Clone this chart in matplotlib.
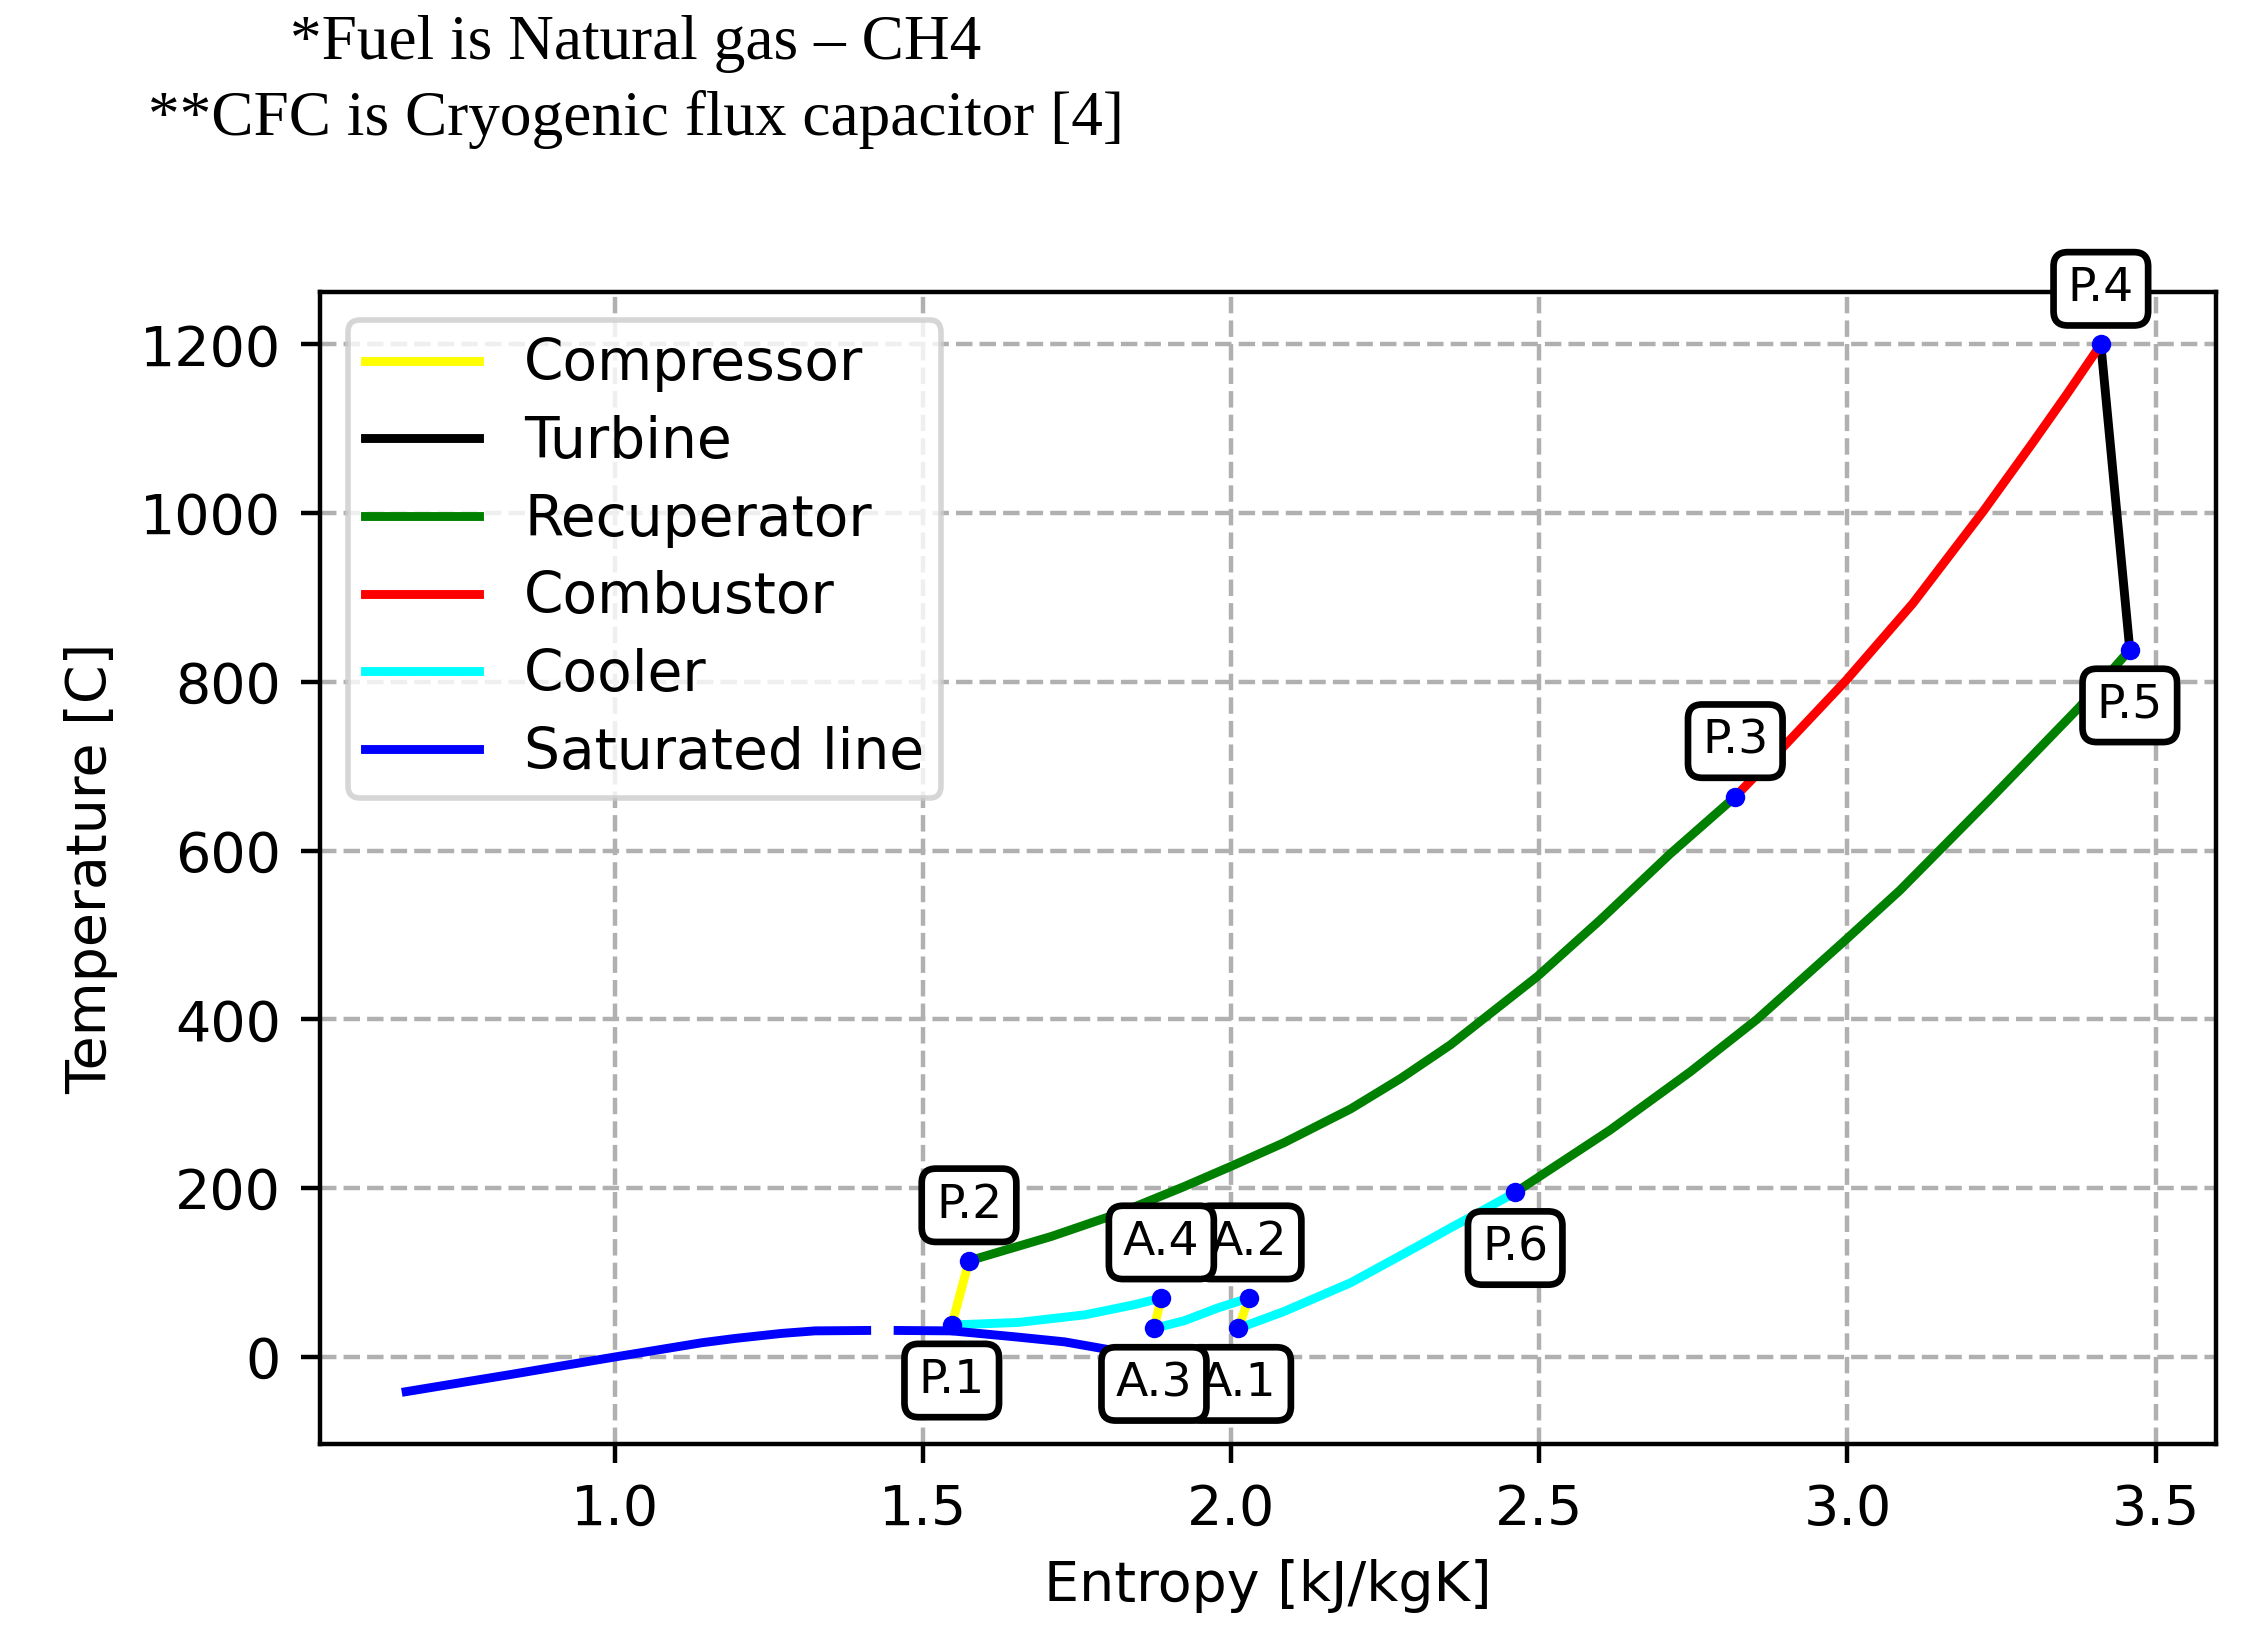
import matplotlib.pyplot as plt

# estados do ciclo: entropia [kJ/kgK], temperatura [C]
state_names = ['P.1', 'P.2', 'P.3', 'P.4', 'P.5', 'P.6', 'A.1', 'A.2', 'A.3', 'A.4']
state_s = [1.547, 1.575, 2.818, 3.411, 3.458, 2.461, 2.012, 2.029, 1.875, 1.887]
state_t = [38, 114, 664, 1200, 838, 195, 34, 70, 34, 70]

# recuperador, lado de alta pressao (P.2 -> P.3)
recup_hot_s = [1.575, 1.709, 1.817, 1.924, 2.000, 2.086, 2.194, 2.275, 2.356, 2.497, 2.599, 2.712, 2.818]
recup_hot_t = [114, 143, 170, 202, 226, 254, 294, 330, 370, 451, 518, 596, 664]

# combustor (P.3 -> P.4)
comb_s = [2.818, 2.896, 2.998, 3.106, 3.220, 3.300, 3.355, 3.411]
comb_t = [664, 723, 802, 893, 1002, 1083, 1140, 1200]

# recuperador, lado de baixa pressao (P.5 -> P.6)
recup_cold_s = [3.458, 3.376, 3.230, 3.085, 2.998, 2.853, 2.745, 2.615, 2.461]
recup_cold_t = [838, 770, 660, 553, 495, 400, 338, 269, 195]

# resfriadores (P.6 -> A.1, A.2 -> A.3, A.4 -> P.1)
cool1_s = [2.461, 2.389, 2.356, 2.302, 2.194, 2.086, 2.012]
cool1_t = [195, 166, 153, 131, 88, 54, 34]
cool2_s = [2.029, 1.978, 1.924, 1.875]
cool2_t = [70, 58, 43, 34]
cool3_s = [1.887, 1.843, 1.763, 1.655, 1.547]
cool3_t = [70, 62, 50, 41, 38]

# linha de saturacao do CO2 (liquido e vapor)
sat_liq_s = [0.662, 0.829, 1.000, 1.142, 1.195, 1.271, 1.325, 1.409]
sat_liq_t = [-41, -21, 0, 17, 22, 28, 31, 31.5]
sat_vap_s = [1.460, 1.547, 1.649, 1.730, 1.800]
sat_vap_t = [31.5, 31, 24, 18, 9]

# compressores e turbina ligam dois estados
compressor_pairs = [('P.1', 'P.2'), ('A.3', 'A.4'), ('A.1', 'A.2')]
turbine_pair = ('P.4', 'P.5')

# rotulo em cima (+1) ou embaixo (-1) do ponto
label_side = {'P.1': -1, 'P.2': 1, 'P.3': 1, 'P.4': 1, 'P.5': -1, 'P.6': -1,
              'A.1': -1, 'A.2': 1, 'A.3': -1, 'A.4': 1}

W, H, DPI = 2267, 1641, 400
fig = plt.figure(figsize=(W / DPI, H / DPI), dpi=DPI)
ax = fig.add_axes([320 / W, 1 - 1444 / H, (2216 - 320) / W, (1444 - 292) / H])

lw = 1.6
state = {n: (s, t) for n, s, t in zip(state_names, state_s, state_t)}

for i, (a, b) in enumerate(compressor_pairs):
    ax.plot([state[a][0], state[b][0]], [state[a][1], state[b][1]], color='yellow', lw=lw,
            label='Compressor' if i == 0 else None)

a, b = turbine_pair
ax.plot([state[a][0], state[b][0]], [state[a][1], state[b][1]], color='black', lw=lw, label='Turbine')

ax.plot(recup_hot_s, recup_hot_t, color='green', lw=lw, label='Recuperator')
ax.plot(recup_cold_s, recup_cold_t, color='green', lw=lw)

ax.plot(comb_s, comb_t, color='red', lw=lw, label='Combustor')

ax.plot(cool1_s, cool1_t, color='cyan', lw=lw, label='Cooler')
ax.plot(cool2_s, cool2_t, color='cyan', lw=lw)
ax.plot(cool3_s, cool3_t, color='cyan', lw=lw)

ax.plot(sat_liq_s, sat_liq_t, color='blue', lw=lw, label='Saturated line')
ax.plot(sat_vap_s, sat_vap_t, color='blue', lw=lw)

ax.plot(state_s, state_t, 'o', color='blue', ms=3.5, mew=0)

for n, s, t in zip(state_names, state_s, state_t):
    ax.annotate(n, xy=(s, t), xytext=(0, 10 * label_side[n]), textcoords='offset points',
                ha='center', va='center', fontsize=8.5, annotation_clip=False,
                bbox=dict(boxstyle='round,pad=0.3', fc='white', ec='black', lw=1.2))

ax.set_yticks([0, 200, 400, 600, 800, 1000, 1200])
ax.grid(True, linestyle='--')
ax.set_xlabel('Entropy [kJ/kgK]')
ax.set_ylabel('Temperature [C]')
ax.legend(loc='upper left', fontsize=10.2, labelspacing=0.4, borderpad=0.3)

# notas do documento acima do grafico
fig.text(636 / W, 1 - 59 / H, '*Fuel is Natural gas \u2013 CH4', ha='center', va='baseline',
         family='Liberation Serif', fontsize=11.4)
fig.text(636 / W, 1 - 135 / H, '**CFC is Cryogenic flux capacitor [4]', ha='center', va='baseline',
         family='Liberation Serif', fontsize=11.4)

fig.savefig('out.png', dpi=DPI)
